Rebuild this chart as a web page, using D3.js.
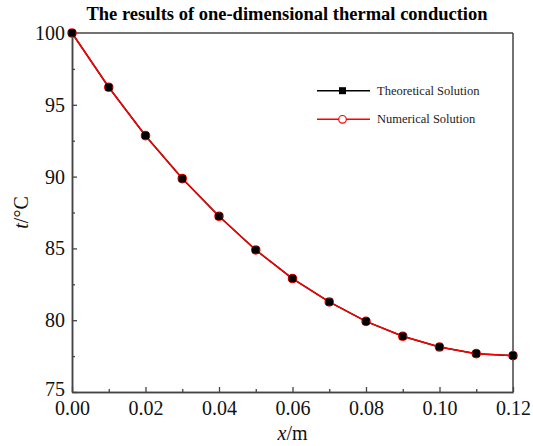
<!DOCTYPE html>
<html><head><meta charset="utf-8">
<script src="https://cdn.jsdelivr.net/npm/d3@7"></script>
<style>body{margin:0;background:#fff}svg{display:block}</style>
</head><body>
<svg id="c" width="533" height="446"></svg>
<script>
const xValues = [0.00,0.01,0.02,0.03,0.04,0.05,0.06,0.07,0.08,0.09,0.10,0.11,0.12];
const theoretical = [100.00,96.22,92.85,89.86,87.24,84.89,82.90,81.27,79.92,78.88,78.13,77.67,77.53];
const numerical   = [100.00,96.22,92.85,89.86,87.24,84.89,82.90,81.27,79.92,78.88,78.13,77.67,77.53];
const xTicks = [0,0.02,0.04,0.06,0.08,0.10,0.12];
const yTicks = [75,80,85,90,95,100];
const seriesNames = ["Theoretical Solution","Numerical Solution"];

const W=533,H=446, m={l:72,r:20,t:33,b:54};
const svg=d3.select("#c");
const x=d3.scaleLinear().domain([0,0.12]).range([m.l,W-m.r]);
const y=d3.scaleLinear().domain([75,100]).range([H-m.b,m.t]);
const axisCol="#444", serif="'Liberation Serif','Times New Roman',serif";

// title
svg.append("text").attr("x",287).attr("y",20).attr("text-anchor","middle")
  .attr("font-family",serif).attr("font-weight","bold").attr("font-size",18.5)
  .text("The results of one-dimensional thermal conduction");

// frame top/right
svg.append("line").attr("x1",x(0)).attr("x2",x(0.12)).attr("y1",y(100)).attr("y2",y(100)).attr("stroke",axisCol).attr("stroke-width",1.5);
svg.append("line").attr("x1",x(0.12)).attr("x2",x(0.12)).attr("y1",y(100)).attr("y2",y(75)).attr("stroke",axisCol).attr("stroke-width",1.5);

// axes
const xAxis=d3.axisBottom(x).tickValues(xTicks).tickFormat(d3.format(".2f")).tickSizeInner(-5).tickSizeOuter(0).tickPadding(9);
const yAxis=d3.axisLeft(y).tickValues(yTicks).tickFormat(d3.format("d")).tickSizeInner(-5).tickSizeOuter(0).tickPadding(7);
const gx=svg.append("g").attr("transform",`translate(0,${y(75)})`).call(xAxis);
const gy=svg.append("g").attr("transform",`translate(${x(0)},0)`).call(yAxis);
// minor ticks
const gxm=svg.append("g").attr("transform",`translate(0,${y(75)})`).call(d3.axisBottom(x).tickValues(d3.range(1,12,2).map(v=>v/100)).tickFormat("").tickSizeInner(-3).tickSizeOuter(0));
const gym=svg.append("g").attr("transform",`translate(${x(0)},0)`).call(d3.axisLeft(y).tickValues([77.5,82.5,87.5,92.5,97.5]).tickFormat("").tickSizeInner(-3).tickSizeOuter(0));
[gx,gy,gxm,gym].forEach(g=>{
  g.selectAll("path.domain").attr("stroke",axisCol).attr("stroke-width",1.5);
  g.selectAll(".tick line").attr("stroke",axisCol).attr("stroke-width",1.3);
  g.selectAll("text").attr("font-family",serif).attr("font-size",20).attr("fill","#111");
});
// lift the bottom y label a little so it only touches the first x label
gy.selectAll(".tick text").filter(d=>d===75).attr("dy","0.18em");

// axis titles
svg.append("text").attr("x",x(0.06)).attr("y",440).attr("text-anchor","middle")
  .attr("font-family",serif).attr("font-size",20).attr("fill","#111")
  .html('<tspan font-style="italic">x</tspan>/m');
svg.append("text").attr("transform",`translate(28,${(y(100)+y(75))/2}) rotate(-90)`).attr("text-anchor","middle")
  .attr("font-family",serif).attr("font-size",20).attr("fill","#111")
  .html('<tspan font-style="italic">t</tspan>/°C');

// lines
const line=d3.line().x((d,i)=>x(xValues[i])).y(d=>y(d));
svg.append("path").datum(theoretical).attr("d",line).attr("fill","none").attr("stroke","#000").attr("stroke-width",1.5);
svg.append("path").datum(numerical).attr("d",line).attr("fill","none").attr("stroke","#f00").attr("stroke-width",1.5);
svg.selectAll("circle.num").data(numerical).enter().append("circle").attr("class","num")
  .attr("cx",(d,i)=>x(xValues[i])).attr("cy",d=>y(d)).attr("r",4.2).attr("fill","#fff").attr("stroke","#f00").attr("stroke-width",1.2);
svg.selectAll("rect.th").data(theoretical).enter().append("rect").attr("class","th")
  .attr("x",(d,i)=>x(xValues[i])-3.8).attr("y",d=>y(d)-3.8).attr("width",7.6).attr("height",7.6).attr("rx",1.8).attr("fill","#000");

// legend
const lg=svg.append("g");
[[90.7,"#000","sq"],[119.3,"#f00","ci"]].forEach(([ly,col,mk],i)=>{
  lg.append("line").attr("x1",317).attr("x2",370).attr("y1",ly).attr("y2",ly).attr("stroke",col).attr("stroke-width",1.5);
  if(mk==="sq") lg.append("rect").attr("x",339).attr("y",ly-3.5).attr("width",7).attr("height",7).attr("fill","#000");
  else lg.append("circle").attr("cx",342.5).attr("cy",ly).attr("r",3.8).attr("fill","#fff").attr("stroke","#f00").attr("stroke-width",1.2);
  lg.append("text").attr("x",377).attr("y",ly+4).attr("font-family",serif).attr("font-size",12.5).attr("fill","#222").text(seriesNames[i]);
});
</script>
</body></html>
